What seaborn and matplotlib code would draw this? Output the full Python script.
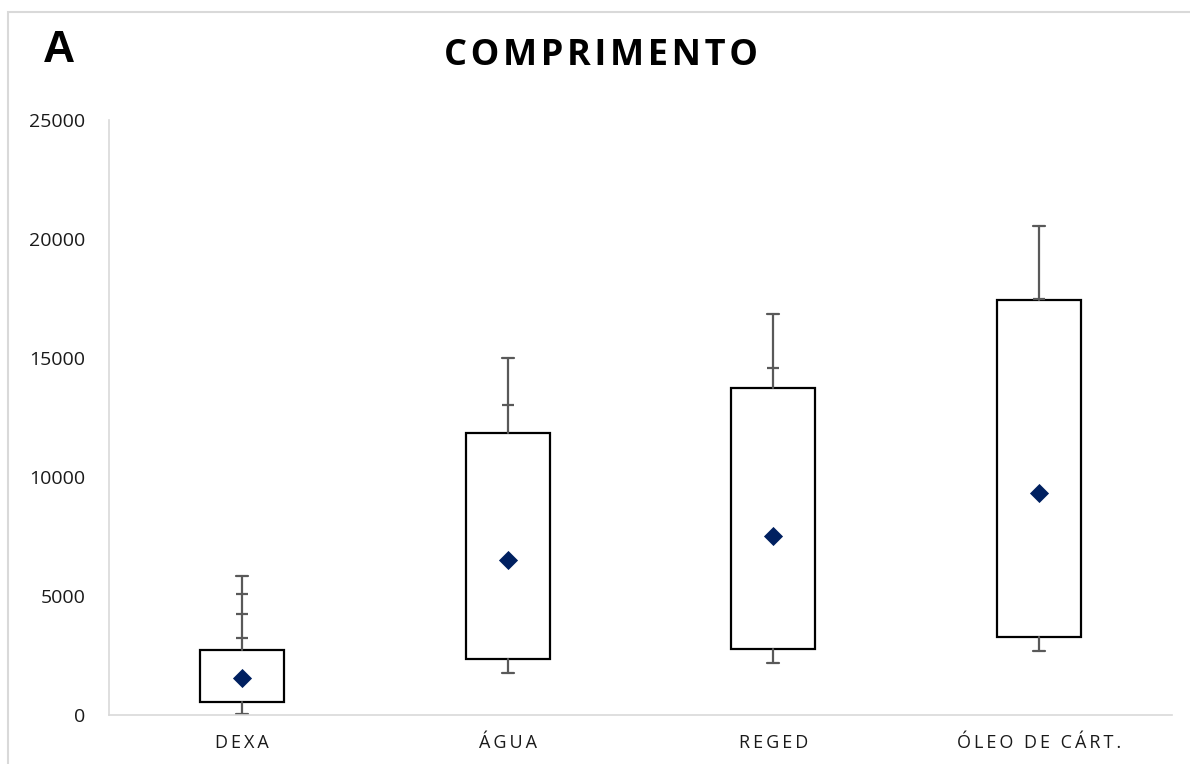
import matplotlib
matplotlib.use("Agg")
import matplotlib.pyplot as plt
from matplotlib.patches import Rectangle
import numpy as np
import pandas as pd
import seaborn as sns

# Summary values per treatment
categories = ["DEXA", "ÁGUA", "REGED", "ÓLEO DE CÁRT."]
q1 = [560, 2350, 2770, 3290]
q3 = [2730, 11860, 13730, 17440]
whisker_low = [30, 1780, 2190, 2690]
whisker_high = [5850, 14990, 16850, 20550]
means = [1570, 6510, 7530, 9340]
# Extra marks along the upper whiskers
mark_group = ["DEXA", "DEXA", "DEXA", "ÁGUA", "REGED", "ÓLEO DE CÁRT."]
mark_value = [5070, 4230, 3240, 13030, 14570, 17470]
y_ticks = [0, 5000, 10000, 15000, 20000, 25000]

sns.set_theme(style="white")
plt.rcParams["font.family"] = ["Open Sans", "DejaVu Sans"]

W, H = 1190, 764
fig = plt.figure(figsize=(W / 100, H / 100), dpi=100)
ax = fig.add_axes([109 / W, 1 - 715 / H, (1172 - 109) / W, (715 - 120) / H])

positions = np.arange(len(categories))
pos_of = dict(zip(categories, positions))

stats = [
    dict(label=c, q1=a, q3=b, med=a, whislo=lo, whishi=hi, fliers=[])
    for c, a, b, lo, hi in zip(categories, q1, q3, whisker_low, whisker_high)
]
ax.bxp(
    stats,
    positions=positions,
    widths=0.316,
    capwidths=0.045,
    showfliers=False,
    patch_artist=True,
    boxprops=dict(facecolor="white", edgecolor="black", linewidth=1.6),
    whiskerprops=dict(color="#595959", linewidth=1.6),
    capprops=dict(color="#595959", linewidth=1.6),
    medianprops=dict(visible=False),
)

marks = pd.DataFrame({"pos": [pos_of[g] for g in mark_group], "value": mark_value})
sns.scatterplot(data=marks, x="pos", y="value", marker="_", s=75,
                color="#595959", linewidth=1.6, ax=ax, zorder=3, legend=False)

mean_df = pd.DataFrame({"pos": positions, "mean": means})
sns.scatterplot(data=mean_df, x="pos", y="mean", marker="D", s=95,
                color="#002060", linewidth=0, ax=ax, zorder=4, legend=False)

ax.set_xlim(-0.5, len(categories) - 0.5)
ax.set_ylim(0, 25000)
ax.set_yticks(y_ticks)
ax.set_yticklabels([str(v) for v in y_ticks], fontsize=14, color="#1a1a1a")
ax.set_xticks(positions)
ax.set_xticklabels(["\u2009".join(c) for c in categories], fontsize=13, color="#1a1a1a")
ax.tick_params(axis="y", length=0, pad=17)
ax.tick_params(axis="x", length=0, pad=14)
ax.set_xlabel("")
ax.set_ylabel("")
for side in ("top", "right"):
    ax.spines[side].set_visible(False)
for side in ("left", "bottom"):
    ax.spines[side].set_color("#d9d9d9")
    ax.spines[side].set_linewidth(1.2)
ax.grid(False)

fig.text(0.505, 1 - 56 / H, "\u200a".join("COMPRIMENTO"), ha="center", va="center",
         fontsize=26, fontweight="bold", color="black")
fig.text(43 / W, 1 - 50 / H, "A", ha="left", va="center", fontsize=32,
         fontweight="bold", family=["Liberation Sans", "DejaVu Sans"], color="black")

fig.patches.append(Rectangle((8 / W, -0.05), 1.2, 1 - 12 / H + 0.05,
                             transform=fig.transFigure, fill=False,
                             edgecolor="#d9d9d9", linewidth=1.5))

fig.savefig("out.png", dpi=100, facecolor="white")
